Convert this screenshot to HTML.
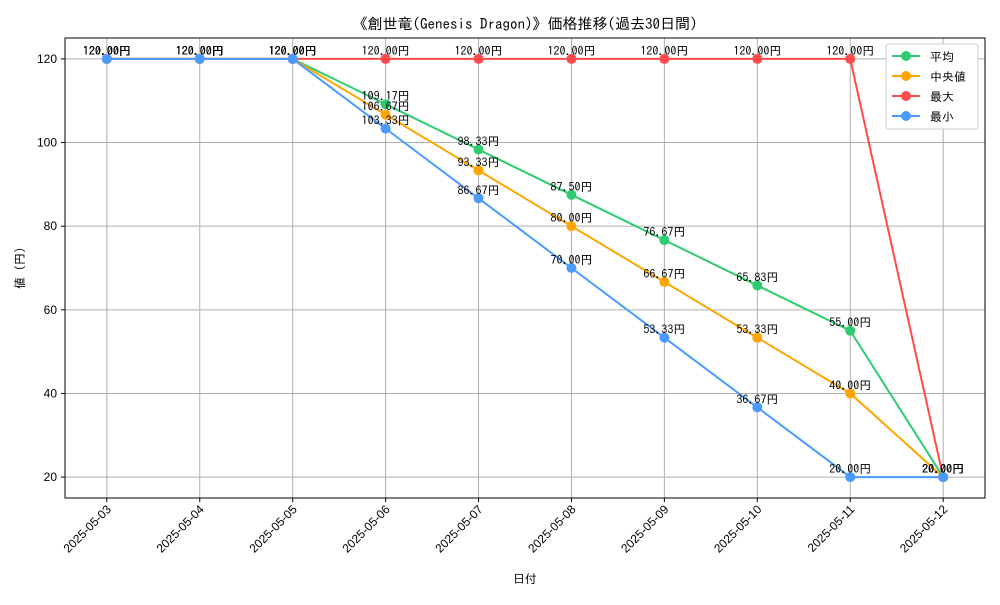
<!DOCTYPE html>
<html><head><meta charset="utf-8"><style>
body{margin:0;background:#fff;}
svg text{font-family:"Liberation Sans","IPAGothic",sans-serif;}
</style></head><body>
<svg id="chart" width="1000" height="600" xmlns="http://www.w3.org/2000/svg">
<rect width="1000" height="600" fill="#fff"/>
<text x="525" y="29" text-anchor="middle" font-size="15" style="font-family:IPAGothic,sans-serif">《創世竜(Genesis Dragon)》価格推移(過去30日間)</text>
<g id="grid"></g><g id="series"></g><g id="labels"></g>
<rect x="65" y="38" width="920" height="460" fill="none" stroke="#000" stroke-width="1"/>
<g id="axes"></g>
<text x="525" y="583" text-anchor="middle" font-size="12" style="font-family:IPAGothic,sans-serif">日付</text>
<text transform="translate(24,268) rotate(-90)" text-anchor="middle" font-size="12" style="font-family:IPAGothic,sans-serif">値 (円)</text>
<g>
<rect x="886" y="44" width="92" height="85" fill="#fff" stroke="#ccc" rx="3"/>
<g id="legend"></g>
</g>
</svg>
<script>
const categories=["2025-05-03","2025-05-04","2025-05-05","2025-05-06","2025-05-07","2025-05-08","2025-05-09","2025-05-10","2025-05-11","2025-05-12"];
const seriesNames=["平均","中央値","最大","最小"];
const seriesColors=["#2ecc71","#ffa500","#ff4b4b","#4b9bff"];
const avgValues=[120,120,120,109.17,98.33,87.5,76.67,65.83,55,20];
const medianValues=[120,120,120,106.67,93.33,80,66.67,53.33,40,20];
const maxValues=[120,120,120,120,120,120,120,120,120,20];
const minValues=[120,120,120,103.33,86.67,70,53.33,36.67,20,20];
const yTicks=[20,40,60,80,100,120];
const allSeries=[avgValues,medianValues,maxValues,minValues];
const L=65,R=985,T=38,B=498,yMin=15,yMax=125;
const xs=i=>L+(i+0.45)/(categories.length-1+0.9)*(R-L);
const ys=v=>B-(v-yMin)/(yMax-yMin)*(B-T);
const NS="http://www.w3.org/2000/svg";
function mk(tag,attrs,parent,txt){const e=document.createElementNS(NS,tag);for(const k in attrs)e.setAttribute(k,attrs[k]);if(txt!==undefined)e.textContent=txt;parent.appendChild(e);return e;}
const grid=document.getElementById('grid'),axes=document.getElementById('axes');
categories.forEach((c,i)=>{
 const g=mk('line',{x1:xs(i),x2:xs(i),y1:T,y2:B,stroke:'#b0b0b0','stroke-width':1},grid);
 
 
 const tk=mk('line',{x1:xs(i),x2:xs(i),y1:B,y2:B+4,stroke:'#000'},axes);
 
 
 const t=mk('text',{x:0,y:0,'font-size':12,'text-anchor':'end',transform:`translate(${xs(i)+5},${B+12}) rotate(-45)`},axes,c);
 
 
});
yTicks.forEach(v=>{
 const g=mk('line',{x1:L,x2:R,y1:ys(v),y2:ys(v),stroke:'#b0b0b0','stroke-width':1},grid);
 
 
 const tk=mk('line',{x1:L-4,x2:L,y1:ys(v),y2:ys(v),stroke:'#000'},axes);
 
 
 const t=mk('text',{x:L-8,y:ys(v)+4,'font-size':12,'text-anchor':'end'},axes,String(v));
 
 
});
const sg=document.getElementById('series'),lg=document.getElementById('labels');
allSeries.forEach((vals,s)=>{
 const p=mk('polyline',{points:vals.map((v,i)=>xs(i)+','+ys(v)).join(' '),fill:'none',stroke:seriesColors[s],'stroke-width':2},sg);
 
 
 vals.forEach((v,i)=>{
  const c=mk('circle',{cx:xs(i),cy:ys(v),r:5,fill:seriesColors[s]},sg);
  
  
  const t=mk('text',{x:xs(i),y:ys(v)-4,'font-size':12,'text-anchor':'middle',style:'font-family:IPAGothic,sans-serif'},lg,v.toFixed(2)+'円');
  
  
 });
});
const leg=document.getElementById('legend');
seriesNames.forEach((n,s)=>{
 const y=56+s*20;
 const l=mk('line',{x1:892,x2:920,y1:y,y2:y,stroke:seriesColors[s],'stroke-width':2},leg);
 
 
 const c=mk('circle',{cx:906,cy:y,r:5,fill:seriesColors[s]},leg);
 
 
 const t=mk('text',{x:930,y:y+5,'font-size':12,style:'font-family:IPAGothic,sans-serif'},leg,n);
 
 
});
</script>
</body></html>
